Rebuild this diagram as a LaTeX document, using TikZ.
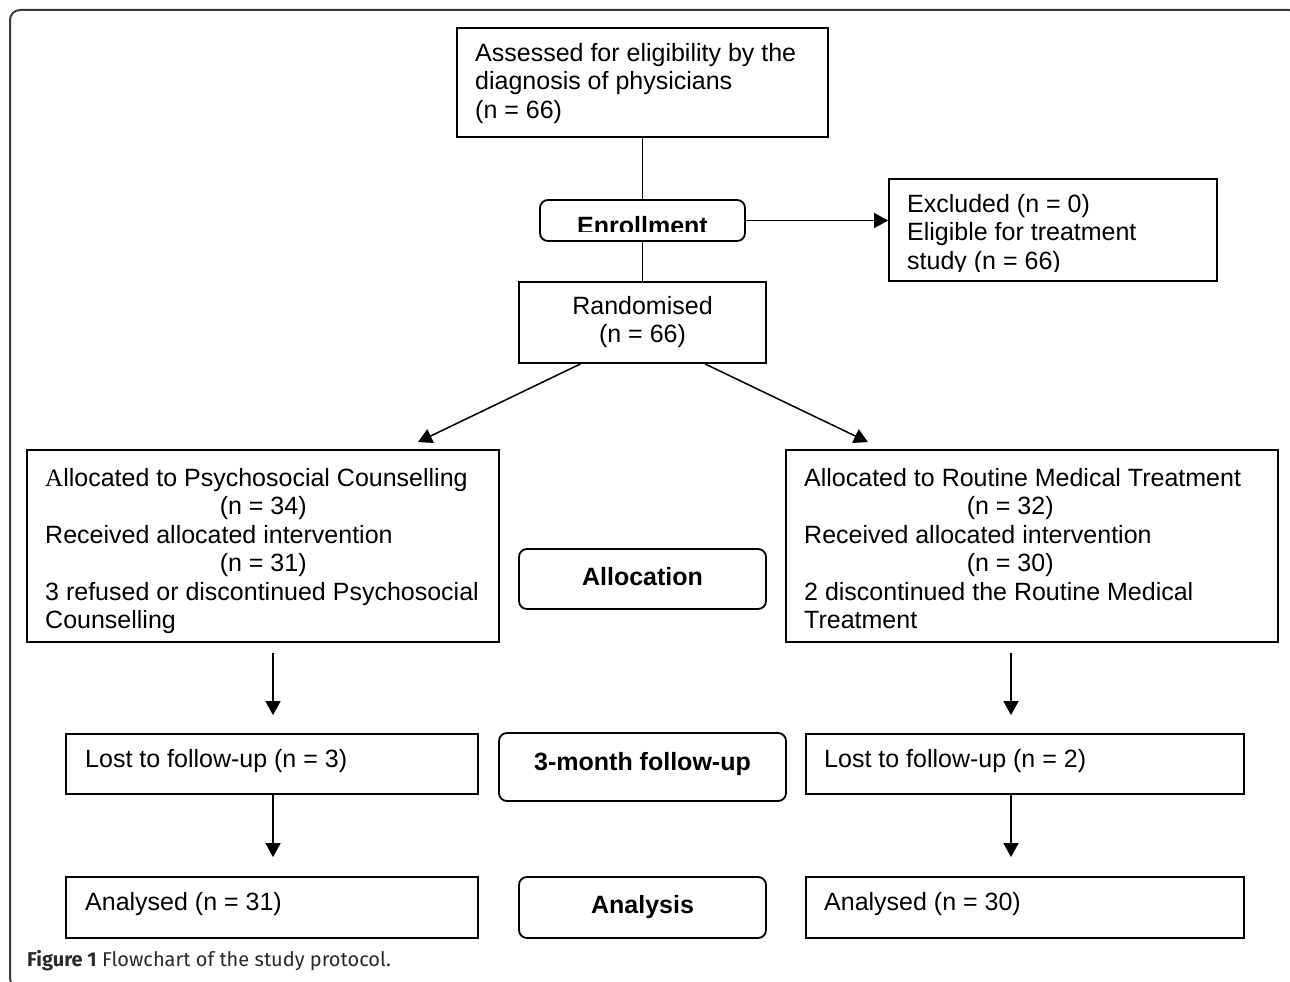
\documentclass[tikz,border=0pt]{standalone}
\usepackage{fontspec}
\setmainfont{Liberation Sans}
\newfontfamily\capfont{Fira Sans}
\newfontfamily\serifA{Liberation Serif}
\usetikzlibrary{arrows.meta}
\definecolor{framegray}{HTML}{3A3A3A}
\definecolor{capgray}{HTML}{2A2A2A}
\begin{document}
\begin{tikzpicture}[x=1pt,y=-1pt,
  box/.style={draw=black, line width=1.8pt, inner sep=0pt},
  rbox/.style={box, rounded corners=8pt},
  txt/.style={inner sep=0pt, font=\fontsize{25}{28.5}\selectfont, align=left},
  lbl/.style={inner sep=0pt, font=\fontsize{25}{28.5}\selectfont\bfseries},
  conn/.style={line width=1.5pt},
  arr/.style={conn, -{Triangle[length=14pt,width=15pt]}}]
\useasboundingbox (0,0) rectangle (1290,982);
\clip (0,0) rectangle (1290,982);
% outer frame
\draw[framegray, line width=2pt, rounded corners=10pt] (10,10) rectangle (1299,988);

% boxes
\node[box, minimum width=371pt, minimum height=109pt] (assess) at (642.5,82.5) {};
\node[rbox, minimum width=205pt, minimum height=41pt] (enrol) at (642.5,220.5) {};
\node[box, minimum width=328pt, minimum height=102pt] (excl) at (1053,230) {};
\node[box, minimum width=247pt, minimum height=81pt] (rand) at (642.5,322.5) {};
\node[box, minimum width=472pt, minimum height=192pt] (allocL) at (263,546) {};
\node[box, minimum width=492pt, minimum height=192pt] (allocR) at (1032,546) {};
\node[rbox, minimum width=247pt, minimum height=60pt] (alloc) at (642.5,579) {};
\node[box, minimum width=412pt, minimum height=60pt] (lostL) at (272,764) {};
\node[box, minimum width=438pt, minimum height=60pt] (lostR) at (1025,764) {};
\node[rbox, minimum width=287pt, minimum height=68pt] (follow) at (642.5,767) {};
\node[box, minimum width=412pt, minimum height=61pt] (analL) at (272,907.5) {};
\node[box, minimum width=438pt, minimum height=61pt] (analR) at (1025,907.5) {};
\node[rbox, minimum width=247pt, minimum height=61pt] (anal) at (642.5,907.5) {};

% texts (base anchor = baseline of the last line)
\node[txt, anchor=base west] (tassess) at (475,118) {Assessed for eligibility by the\\diagnosis of physicians\\(n = 66)};
\begin{scope}
  \clip (540,200) rectangle (745,231);
  \node[lbl, anchor=base] (tenrol) at (642.5,234) {Enrollment};
\end{scope}
\begin{scope}
  \clip (889,179) rectangle (1217,271);
  \node[txt, anchor=base west] (texcl) at (907,269) {Excluded (n = 0)\\Eligible for treatment\\study (n = 66)};
\end{scope}
\node[txt, align=center, anchor=base] (trand) at (642.5,342.5) {Randomised\\(n = 66)};
\node[txt, anchor=base west] (tallocL) at (45,628.5) {{\serifA A}llocated to Psychosocial Counselling\\\makebox[436pt]{(n = 34)}\\Received allocated intervention\\\makebox[436pt]{(n = 31)}\\3 refused or discontinued Psychosocial\\Counselling};
\node[txt, anchor=base west] (tallocR) at (804,628.5) {Allocated to Routine Medical Treatment\\\makebox[412pt]{(n = 32)}\\Received allocated intervention\\\makebox[412pt]{(n = 30)}\\2 discontinued the Routine Medical\\Treatment};
\node[lbl, anchor=base] (talloc) at (642.5,585) {Allocation};
\node[txt, anchor=base west] (tlostL) at (85,767) {Lost to follow-up (n = 3)};
\node[txt, anchor=base west] (tlostR) at (824,767) {Lost to follow-up (n = 2)};
\node[lbl, anchor=base] (tfollow) at (642.5,770) {3-month follow-up};
\node[txt, anchor=base west] (tanalL) at (85,910) {Analysed (n = 31)};
\node[txt, anchor=base west] (tanalR) at (824,910) {Analysed (n = 30)};
\node[lbl, anchor=base] (tanal) at (642.5,913) {Analysis};

% connectors
\draw[conn] (assess.south) -- (enrol.north);
\draw[conn] (enrol.south) -- (rand.north);
\draw[arr] (enrol.east) -- (enrol.east -| excl.west);
\draw[arr] ([xshift=-62pt]rand.south) -- ([xshift=155pt,yshift=7pt]allocL.north);
\draw[arr] ([xshift=62.5pt]rand.south) -- ([xshift=-164pt,yshift=7pt]allocR.north);
\draw[arr] ([yshift=-10pt]allocL.south -| 273,0) -- ([yshift=18pt]lostL.north -| 273,0);
\draw[arr] ([yshift=-10pt]allocR.south -| 1011,0) -- ([yshift=18pt]lostR.north -| 1011,0);
\draw[arr] (lostL.south -| 273,0) -- ([yshift=19pt]analL.north -| 273,0);
\draw[arr] (lostR.south -| 1011,0) -- ([yshift=19pt]analR.north -| 1011,0);

% caption
\node[anchor=base west, inner sep=0pt, font=\capfont\fontsize{20}{22}\selectfont, text=capgray] (cap) at (27,966) {\textbf{Figure 1} Flowchart of the study protocol.};
\end{tikzpicture}
\end{document}
